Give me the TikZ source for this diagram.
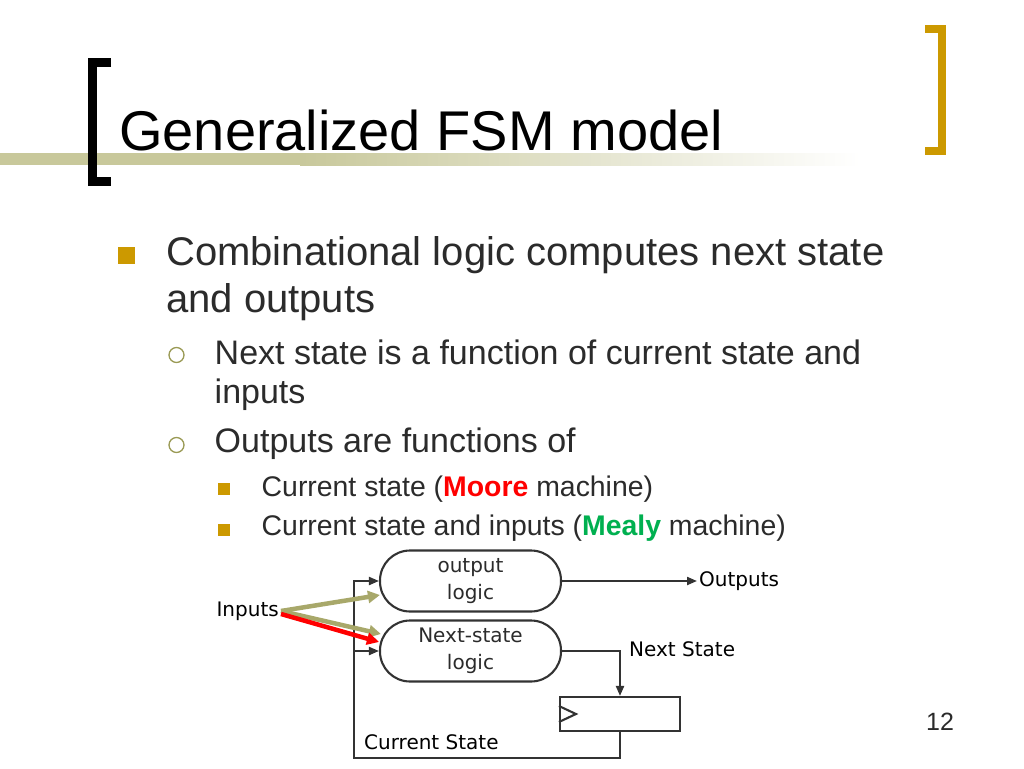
\documentclass[tikz,border=0pt]{standalone}
\usepackage{fontspec}
\setmainfont{Liberation Sans}
\newfontfamily\diagfont{DejaVu Sans}
\usetikzlibrary{arrows.meta, calc, positioning}
\definecolor{slidegold}{HTML}{CC9900}
\definecolor{slideband}{HTML}{C8C89B}
\definecolor{slidetext}{HTML}{2B2B2B}
\definecolor{bulletolive}{HTML}{9A9A55}
\definecolor{arrowolive}{HTML}{A8A86A}
\definecolor{moorered}{HTML}{FF0000}
\definecolor{mealygreen}{HTML}{00B050}
\definecolor{wiregray}{HTML}{333333}
\newcommand\SquareBullet[3]{%
\fill[slidegold] (#1-0.5*#3,#2-0.5*#3) rectangle (#1+0.5*#3,#2+0.5*#3);
}
\newcommand\CircleBullet[2]{%
\draw[bulletolive,line width=1.3pt] (#1,#2) circle [radius=7.5];
}
\tikzset{
  lvlone/.style={anchor=base west,inner sep=0pt,text=slidetext,font=\fontsize{40}{40}\selectfont},
  lvltwo/.style={anchor=base west,inner sep=0pt,text=slidetext,font=\fontsize{34}{34}\selectfont},
  lvlthree/.style={anchor=base west,inner sep=0pt,text=slidetext,font=\fontsize{28.4}{28.4}\selectfont},
  logicbox/.style={draw=wiregray,line width=2.1pt,rectangle,rounded corners=30pt,minimum width=181pt,minimum height=61pt,align=center,font=\diagfont\fontsize{20}{27}\selectfont,text=slidetext},
  wirelabel/.style={font=\diagfont\fontsize{20}{24}\selectfont,text=black,inner sep=2pt},
  wire/.style={draw=wiregray,line width=2.1pt},
  wirearrow/.style={wire,-{Triangle[length=10pt,width=8pt]}},
  fatarrow/.style={line width=4.5pt,-{Triangle[length=12pt,width=12pt]}}
}

\begin{document}
\begin{tikzpicture}[x=1pt,y=-1pt]
  \fill[white] (0,0) rectangle (1024,768);
  \useasboundingbox (0,0) rectangle (1024,768);

  % title bar
  \fill[slideband] (0,153) rectangle (300,165);
  \shade[left color=slideband,right color=white] (300,153) rectangle (860,165);
  \draw[black,line width=9pt,miter limit=10] (111,62.5) -- (92.5,62.5) -- (92.5,181.5) -- (111,181.5);
  \draw[slidegold,line width=8pt,miter limit=10] (925,29) -- (942,29) -- (942,151) -- (925,151);
  \node[anchor=base west,inner sep=0pt,font=\fontsize{56}{56}\selectfont] (title) at (119,150) {Generalized FSM model};

  % bullets
  \SquareBullet{126.5}{255}{17}
  \node[lvlone] (combA) at (166,265) {Combinational logic computes next state};
  \node[lvlone] (combB) at (166,312) {and outputs};

  \CircleBullet{176.5}{355}
  \node[lvltwo] (nextA) at (214.5,364) {Next state is a function of current state and};
  \node[lvltwo] (nextB) at (214.5,403) {inputs};
  \CircleBullet{176.5}{445}
  \node[lvltwo] (outs) at (214.5,452) {Outputs are functions of};

  \SquareBullet{224}{489}{12}
  \node[lvlthree] (moore) at (261.5,496) {Current state (\textcolor{moorered}{\textbf{Moore}} machine)};
  \SquareBullet{224}{529.5}{12}
  \node[lvlthree] (mealy) at (261.5,535) {Current state and inputs (\textcolor{mealygreen}{\textbf{Mealy}} machine)};

  % FSM diagram
  \node[logicbox] (outlogic) at (470.5,581) {output\\logic};
  \node[logicbox] (nslogic) at (470.5,651) {Next-state\\logic};
  \node[draw=wiregray,line width=2.1pt,minimum width=120pt,minimum height=34pt,inner sep=0pt] (reg) at (620,714) {};
  \draw[wire] ($(reg.west)+(0,-8)$) -- ($(reg.west)+(17,0)$) -- ($(reg.west)+(0,8)$);

  \node[wirelabel,anchor=west] (outlabel) at (697,581) {Outputs};
  \node[wirelabel,anchor=west] (nslabel) at (627,649) {Next State};
  \node[wirelabel,anchor=west] (cslabel) at (362,742) {Current State};
  \node[wirelabel,anchor=east] (inlabel) at (281,611) {Inputs};

  \coordinate (loopbl) at (354,758);
  \draw[wirearrow] (outlogic.east) -- (outlogic.east -| outlabel.west);
  \draw[wirearrow] (nslogic.east) -| (reg.north);
  \draw[wirearrow] (reg.south) |- (loopbl) |- (outlogic.west);
  \draw[wirearrow] (loopbl |- nslogic.west) -- (nslogic.west);

  \draw[fatarrow,arrowolive] (inlabel.east) -- ($(outlogic.west)+(1,14)$);
  \draw[fatarrow,arrowolive] (inlabel.east) -- ($(nslogic.west)+(2,-17)$);
  \draw[fatarrow,moorered] ($(inlabel.east)+(0,3)$) -- ($(nslogic.west)+(0,-9)$);

  \node[anchor=base,inner sep=0pt,text=slidetext,font=\fontsize{25}{25}\selectfont] (pagenum) at (940,730) {12};
\end{tikzpicture}
\end{document}
